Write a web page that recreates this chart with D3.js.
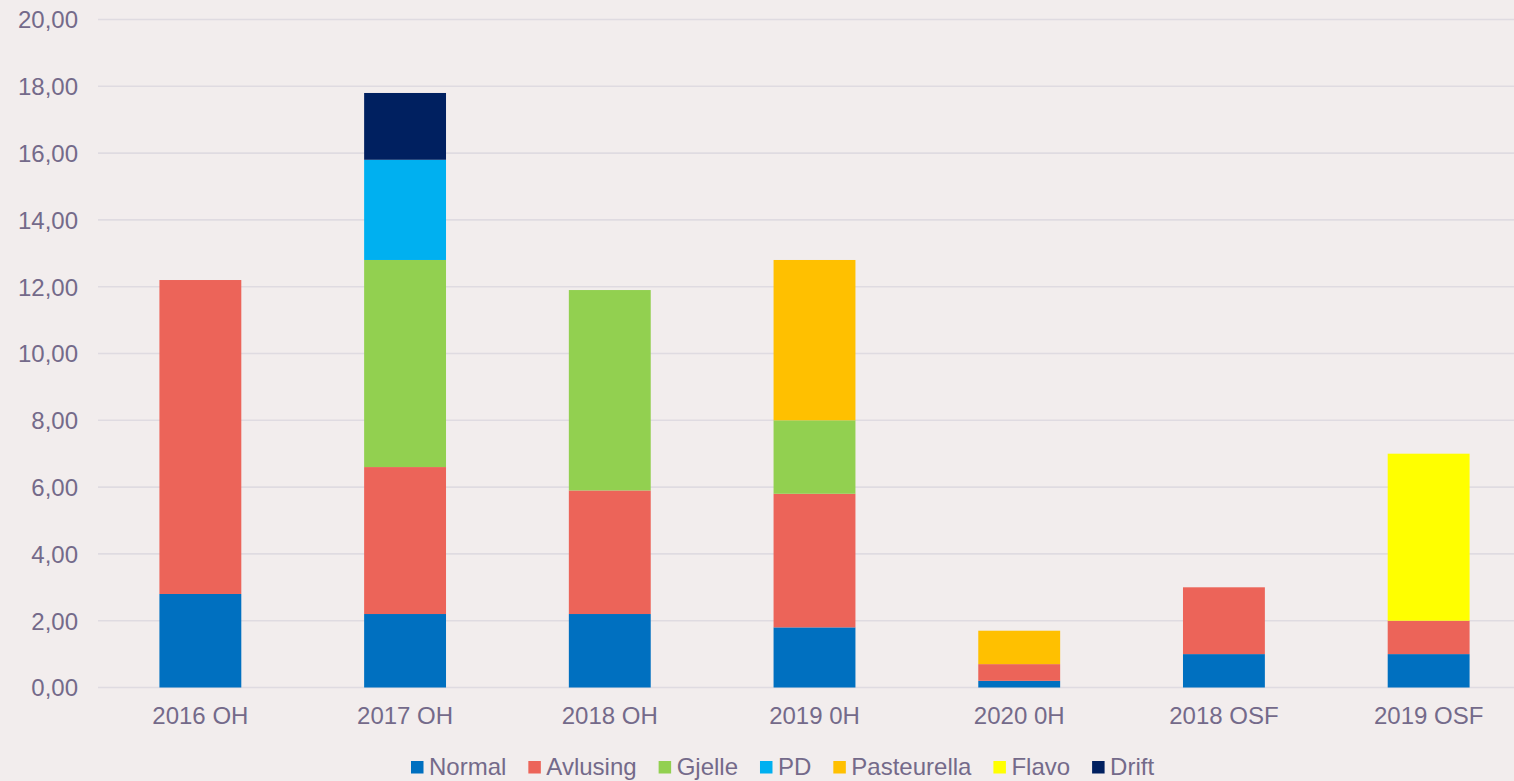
<!DOCTYPE html>
<html>
<head>
<meta charset="utf-8">
<script src="https://cdn.jsdelivr.net/npm/d3@7"></script>
<style>
  html, body { margin: 0; padding: 0; background: #f2eded; }
  svg { display: block; font-family: "Liberation Sans", Arial, sans-serif; }
  .axis text { fill: #746a8a; font-size: 24px; }
</style>
</head>
<body>
<div id="chart"></div>
<script>
// categories and series
var categories = ["2016 OH", "2017 OH", "2018 OH", "2019 0H", "2020 0H", "2018 OSF", "2019 OSF"];
var seriesNames = ["Normal", "Avlusing", "Gjelle", "PD", "Pasteurella", "Flavo", "Drift"];
var normal      = [2.8, 2.2, 2.2, 1.8, 0.2, 1.0, 1.0];
var avlusing    = [9.4, 4.4, 3.7, 4.0, 0.5, 2.0, 1.0];
var gjelle      = [0,   6.2, 6.0, 2.2, 0,   0,   0];
var pd          = [0,   3.0, 0,   0,   0,   0,   0];
var pasteurella = [0,   0,   0,   4.8, 1.0, 0,   0];
var flavo       = [0,   0,   0,   0,   0,   0,   5.0];
var drift       = [0,   2.0, 0,   0,   0,   0,   0];
var yTicks = [0, 2, 4, 6, 8, 10, 12, 14, 16, 18, 20];

var colors = ["#0070c0", "#ec6459", "#92d050", "#00b0f0", "#ffc000", "#ffff00", "#002060"];

const width = 1514, height = 781;

// build a table for d3.stack
var table = categories.map(function(c, i) {
  return {
    cat: c,
    Normal: normal[i],
    Avlusing: avlusing[i],
    Gjelle: gjelle[i],
    PD: pd[i],
    Pasteurella: pasteurella[i],
    Flavo: flavo[i],
    Drift: drift[i]
  };
});

var stacked = d3.stack().keys(seriesNames)(table);

// plot area runs a bit past the right edge of the picture
var x = d3.scaleBand()
    .domain(categories)
    .range([98, 1531])
    .paddingInner(0.6)
    .paddingOuter(0.3);

var y = d3.scaleLinear()
    .domain([0, 20])
    .range([687.5, 19.5]);

var nbFormat = d3.formatLocale({decimal: ",", thousands: " ", grouping: [3], currency: ["", " kr"]}).format(".2f");

var svg = d3.select("#chart").append("svg")
    .attr("width", width)
    .attr("height", height);

svg.append("rect")
    .attr("width", width)
    .attr("height", height)
    .attr("fill", "#f2eded");

// gridlines
svg.append("g")
    .selectAll("line")
    .data(yTicks)
    .enter()
    .append("line")
    .attr("x1", 98)
    .attr("x2", 1514)
    .attr("y1", function(d) { return y(d); })
    .attr("y2", function(d) { return y(d); })
    .attr("stroke", "#dfdbe1")
    .attr("stroke-width", 1.6);

// y axis labels
var yAxis = svg.append("g")
    .attr("class", "axis")
    .attr("transform", "translate(88,0)")
    .call(d3.axisLeft(y).tickValues(yTicks).tickFormat(nbFormat).tickSize(0).tickPadding(10));
yAxis.select(".domain").remove();
yAxis.selectAll("text").attr("dy", "0.35em");

// bars
var layers = svg.append("g")
    .selectAll("g")
    .data(stacked)
    .enter()
    .append("g")
    .attr("fill", function(d, i) { return colors[i]; });

layers.selectAll("rect")
    .data(function(d) { return d; })
    .enter()
    .filter(function(d) { return d[1] - d[0] > 0; })
    .append("rect")
    .attr("x", function(d) { return x(d.data.cat); })
    .attr("width", x.bandwidth())
    .attr("y", function(d) { return y(d[1]); })
    .attr("height", function(d) { return y(d[0]) - y(d[1]); });

// x axis labels
var xAxis = svg.append("g")
    .attr("class", "axis")
    .attr("transform", "translate(0," + y(0) + ")")
    .call(d3.axisBottom(x).tickSize(0).tickPadding(19));
xAxis.select(".domain").remove();

// legend
var legend = svg.append("g").attr("class", "axis");
var lx = 411;
seriesNames.forEach(function(name, i) {
  legend.append("rect")
      .attr("x", lx)
      .attr("y", 761)
      .attr("width", 12.5)
      .attr("height", 12.5)
      .attr("fill", colors[i]);
  var t = legend.append("text")
      .attr("x", lx + 18)
      .attr("y", 775)
      .text(name);
  lx += 18 + t.node().getComputedTextLength() + 22;
});
</script>
</body>
</html>
